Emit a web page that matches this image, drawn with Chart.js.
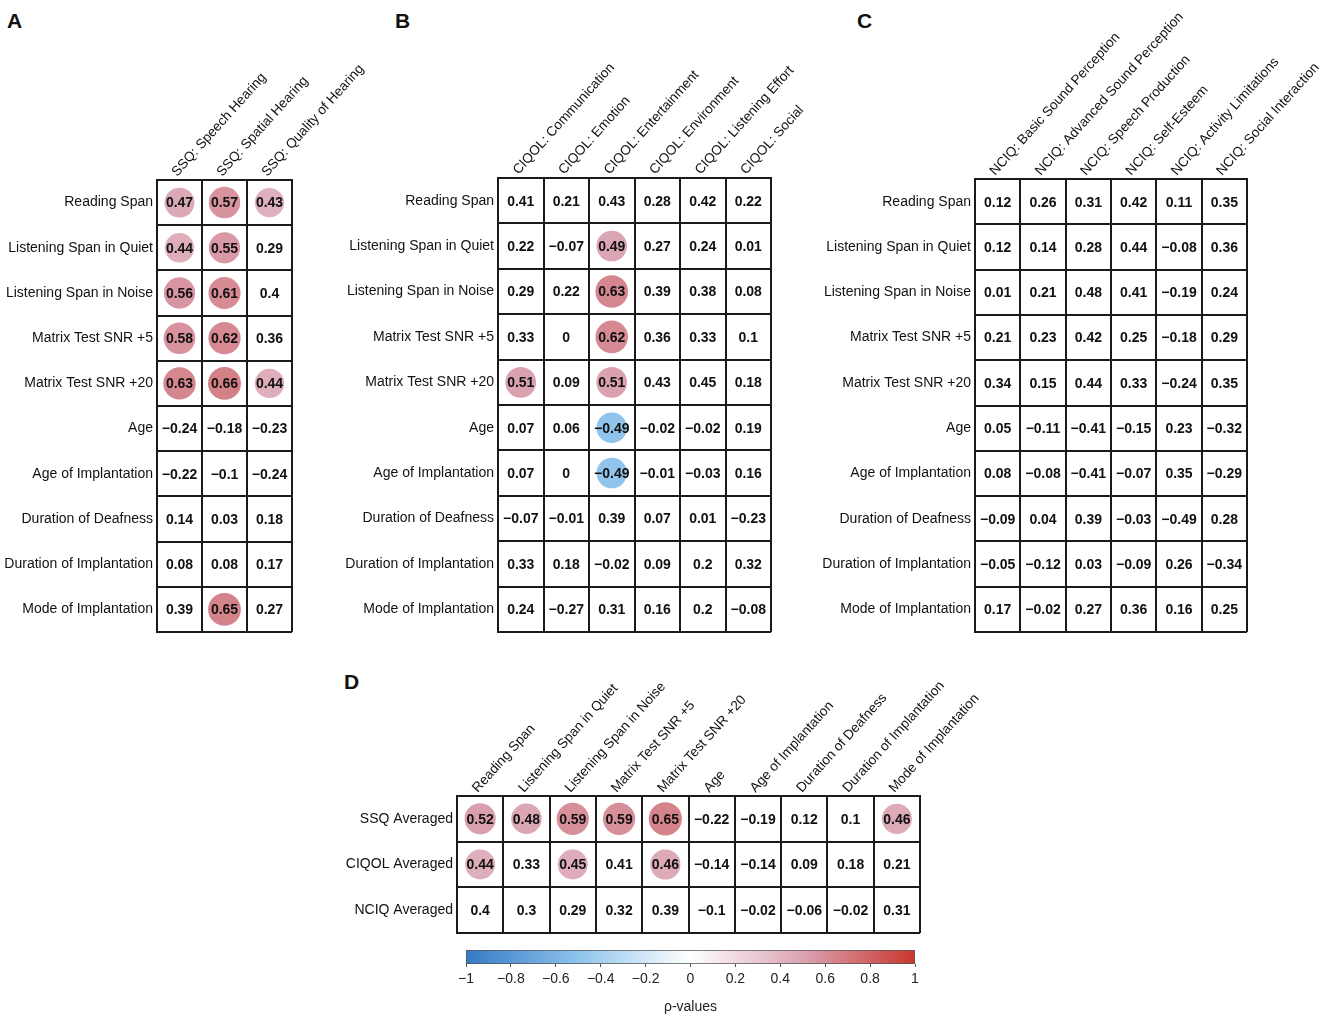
<!DOCTYPE html>
<html>
<head>
<meta charset="utf-8">
<script src="https://cdn.jsdelivr.net/npm/chart.js@4.4.1/dist/chart.umd.min.js"></script>
<style>
  body { margin: 0; background: #fff; }
  #wrap { position: relative; width: 1325px; height: 1019px; overflow: hidden; font-family: "Liberation Sans", Arial, sans-serif; }
  canvas { position: absolute; }
  .tag { position: absolute; font-weight: bold; font-size: 21px; line-height: 21px; color: #111; }
</style>
</head>
<body>
<div id="wrap">
  <div class="tag" style="left:7px;top:10px">A</div>
  <div class="tag" style="left:395px;top:10px">B</div>
  <div class="tag" style="left:857px;top:10px">C</div>
  <div class="tag" style="left:344px;top:671px">D</div>
  <canvas id="chartA" width="390" height="645" style="left:0;top:0"></canvas>
  <canvas id="chartB" width="490" height="645" style="left:330px;top:0"></canvas>
  <canvas id="chartC" width="515" height="645" style="left:810px;top:0"></canvas>
  <canvas id="chartD" width="660" height="300" style="left:340px;top:640px"></canvas>
  <canvas id="colorBar" width="500" height="74" style="left:440px;top:945px"></canvas>
</div>
<script>
// rows shared by panels A, B, C
const measures = ['Reading Span', 'Listening Span in Quiet', 'Listening Span in Noise',
  'Matrix Test SNR +5', 'Matrix Test SNR +20', 'Age', 'Age of Implantation',
  'Duration of Deafness', 'Duration of Implantation', 'Mode of Implantation'];

const colsA = ['SSQ: Speech Hearing', 'SSQ: Spatial Hearing', 'SSQ: Quality of Hearing'];
const rhoA = [
  [0.47, 0.57, 0.43], [0.44, 0.55, 0.29], [0.56, 0.61, 0.4], [0.58, 0.62, 0.36], [0.63, 0.66, 0.44],
  [-0.24, -0.18, -0.23], [-0.22, -0.1, -0.24], [0.14, 0.03, 0.18], [0.08, 0.08, 0.17], [0.39, 0.65, 0.27]
];
const sigA = [
  [1, 1, 1], [1, 1, 0], [1, 1, 0], [1, 1, 0], [1, 1, 1],
  [0, 0, 0], [0, 0, 0], [0, 0, 0], [0, 0, 0], [0, 1, 0]
];

const colsB = ['CIQOL: Communication', 'CIQOL: Emotion', 'CIQOL: Entertainment',
  'CIQOL: Environment', 'CIQOL: Listening Effort', 'CIQOL: Social'];
const rhoB = [
  [0.41, 0.21, 0.43, 0.28, 0.42, 0.22],
  [0.22, -0.07, 0.49, 0.27, 0.24, 0.01],
  [0.29, 0.22, 0.63, 0.39, 0.38, 0.08],
  [0.33, 0, 0.62, 0.36, 0.33, 0.1],
  [0.51, 0.09, 0.51, 0.43, 0.45, 0.18],
  [0.07, 0.06, -0.49, -0.02, -0.02, 0.19],
  [0.07, 0, -0.49, -0.01, -0.03, 0.16],
  [-0.07, -0.01, 0.39, 0.07, 0.01, -0.23],
  [0.33, 0.18, -0.02, 0.09, 0.2, 0.32],
  [0.24, -0.27, 0.31, 0.16, 0.2, -0.08]
];
const sigB = [
  [0, 0, 0, 0, 0, 0], [0, 0, 1, 0, 0, 0], [0, 0, 1, 0, 0, 0], [0, 0, 1, 0, 0, 0], [1, 0, 1, 0, 0, 0],
  [0, 0, 1, 0, 0, 0], [0, 0, 1, 0, 0, 0], [0, 0, 0, 0, 0, 0], [0, 0, 0, 0, 0, 0], [0, 0, 0, 0, 0, 0]
];

const colsC = ['NCIQ: Basic Sound Perception', 'NCIQ: Advanced Sound Perception', 'NCIQ: Speech Production',
  'NCIQ: Self-Esteem', 'NCIQ: Activity Limitations', 'NCIQ: Social Interaction'];
const rhoC = [
  [0.12, 0.26, 0.31, 0.42, 0.11, 0.35],
  [0.12, 0.14, 0.28, 0.44, -0.08, 0.36],
  [0.01, 0.21, 0.48, 0.41, -0.19, 0.24],
  [0.21, 0.23, 0.42, 0.25, -0.18, 0.29],
  [0.34, 0.15, 0.44, 0.33, -0.24, 0.35],
  [0.05, -0.11, -0.41, -0.15, 0.23, -0.32],
  [0.08, -0.08, -0.41, -0.07, 0.35, -0.29],
  [-0.09, 0.04, 0.39, -0.03, -0.49, 0.28],
  [-0.05, -0.12, 0.03, -0.09, 0.26, -0.34],
  [0.17, -0.02, 0.27, 0.36, 0.16, 0.25]
];
const sigC = rhoC.map(r => r.map(() => 0));

const rowsD = ['SSQ Averaged', 'CIQOL Averaged', 'NCIQ Averaged'];
const colsD = measures;
const rhoD = [
  [0.52, 0.48, 0.59, 0.59, 0.65, -0.22, -0.19, 0.12, 0.1, 0.46],
  [0.44, 0.33, 0.45, 0.41, 0.46, -0.14, -0.14, 0.09, 0.18, 0.21],
  [0.4, 0.3, 0.29, 0.32, 0.39, -0.1, -0.02, -0.06, -0.02, 0.31]
];
const sigD = [
  [1, 1, 1, 1, 1, 0, 0, 0, 0, 1],
  [1, 0, 1, 0, 1, 0, 0, 0, 0, 0],
  [0, 0, 0, 0, 0, 0, 0, 0, 0, 0]
];

const colorBarTicks = { min: -1, max: 1, step: 0.2 };

const FONT = '"Liberation Sans", Arial, sans-serif';
const LINE = '#1a1a1a';

// blue - white - red colour scale
const colorStops = [
  [-1, [52, 122, 196]], [-0.5, [142, 195, 235]], [0, [255, 255, 255]],
  [0.5, [218, 163, 178]], [1, [200, 55, 45]]
];
function rhoColor(v) {
  for (let i = 1; i < colorStops.length; i++) {
    const [v0, c0] = colorStops[i - 1];
    const [v1, c1] = colorStops[i];
    if (v <= v1) {
      const t = (v - v0) / (v1 - v0);
      const c = c0.map((x, k) => Math.round(x + (c1[k] - x) * t));
      return `rgb(${c[0]},${c[1]},${c[2]})`;
    }
  }
  return 'rgb(200,55,45)';
}

function fmt(v) {
  const r = Math.round(v * 100) / 100;
  return r < 0 ? '\u2212' + String(Math.abs(r)) : String(r);
}

// writes the rho value in every cell
const cellText = {
  id: 'cellText',
  afterDatasetsDraw(chart) {
    const ctx = chart.ctx;
    const ds = chart.data.datasets[0];
    ctx.save();
    ctx.font = 'bold 14px ' + FONT;
    ctx.fillStyle = '#111';
    ctx.textAlign = 'center';
    ctx.textBaseline = 'middle';
    chart.getDatasetMeta(0).data.forEach((pt, i) => {
      ctx.fillText(fmt(ds.data[i].v), pt.x, pt.y + 1);
    });
    ctx.restore();
  }
};

function heatmap(id, rows, cols, rho, sig, box) {
  const cells = [];
  rows.forEach((r, i) => cols.forEach((c, j) => {
    cells.push({ x: c, y: r, v: rho[i][j], s: sig[i][j] });
  }));

  return new Chart(document.getElementById(id), {
    type: 'scatter',
    data: {
      datasets: [{
        data: cells,
        pointBorderWidth: 0,
        pointBackgroundColor: ctx => {
          const c = cells[ctx.dataIndex];
          return c && c.s ? rhoColor(c.v) : 'rgba(0,0,0,0)';
        },
        pointRadius: ctx => {
          const c = cells[ctx.dataIndex];
          const a = ctx.chart.chartArea;
          if (!c || !c.s || !a) return 0;
          const cell = Math.min(a.width / cols.length, a.height / rows.length);
          return cell / 2 * (0.5 + 0.35 * Math.abs(c.v));
        }
      }]
    },
    options: {
      responsive: false,
      animation: false,
      events: [],
      layout: { padding: { top: 0, left: 0, right: box.right, bottom: box.bottom } },
      plugins: { legend: { display: false }, tooltip: { enabled: false } },
      scales: {
        x: {
          type: 'category',
          labels: cols,
          position: 'top',
          offset: true,
          grid: { offset: true, color: LINE, lineWidth: 2, drawTicks: false },
          border: { color: LINE, width: 2 },
          ticks: { autoSkip: false, minRotation: 48, maxRotation: 48, padding: 0, labelOffset: 7, color: '#111', font: { size: 13.6, family: FONT } },
          afterFit: s => { s.height = box.top; s.paddingLeft = 0; s.paddingRight = 0; }
        },
        y: {
          type: 'category',
          labels: rows,
          offset: true,
          grid: { offset: true, color: LINE, lineWidth: 2, drawTicks: false },
          border: { color: LINE, width: 2 },
          ticks: { autoSkip: false, padding: 4, color: '#111', font: { size: 14, family: FONT } },
          afterFit: s => { s.width = box.left; s.paddingTop = 0; s.paddingBottom = 0; }
        }
      }
    },
    plugins: [cellText]
  });
}

heatmap('chartA', measures, colsA, rhoA, sigA, { left: 157, top: 180, right: 98, bottom: 13 });
heatmap('chartB', measures, colsB, rhoB, sigB, { left: 168, top: 178, right: 49, bottom: 13 });
heatmap('chartC', measures, colsC, rhoC, sigC, { left: 165, top: 179, right: 78, bottom: 13 });
heatmap('chartD', rowsD, colsD, rhoD, sigD, { left: 117, top: 156, right: 80, bottom: 7 });

// colour bar legend
new Chart(document.getElementById('colorBar'), {
  type: 'bar',
  data: {
    labels: [''],
    datasets: [{
      data: [[colorBarTicks.min, colorBarTicks.max]],
      borderColor: '#555',
      borderWidth: 1,
      borderSkipped: false,
      barPercentage: 1,
      categoryPercentage: 1,
      backgroundColor: ctx => {
        const a = ctx.chart.chartArea;
        if (!a) return '#fff';
        const g = ctx.chart.ctx.createLinearGradient(a.left, 0, a.right, 0);
        for (let k = 0; k <= 40; k++) {
          g.addColorStop(k / 40, rhoColor(-1 + k / 20));
        }
        return g;
      }
    }]
  },
  options: {
    indexAxis: 'y',
    responsive: false,
    animation: false,
    events: [],
    layout: { padding: { left: 26, right: 25, top: 5, bottom: 0 } },
    plugins: { legend: { display: false }, tooltip: { enabled: false } },
    scales: {
      x: {
        type: 'linear',
        min: colorBarTicks.min,
        max: colorBarTicks.max,
        ticks: {
          stepSize: colorBarTicks.step,
          padding: 4,
          color: '#222',
          font: { size: 14, family: FONT },
          callback: v => {
            const r = Math.round(v * 10) / 10;
            return r < 0 ? '\u2212' + Math.abs(r) : String(r);
          }
        },
        grid: { drawOnChartArea: false, tickLength: 3, color: '#555' },
        border: { display: false },
        title: { display: true, text: 'ρ-values', color: '#222', font: { size: 14, family: FONT }, padding: { top: 4, bottom: 3 } },
        afterFit: s => { s.height = 55; s.paddingLeft = 0; s.paddingRight = 0; }
      },
      y: { display: false }
    }
  }
});
</script>
</body>
</html>
